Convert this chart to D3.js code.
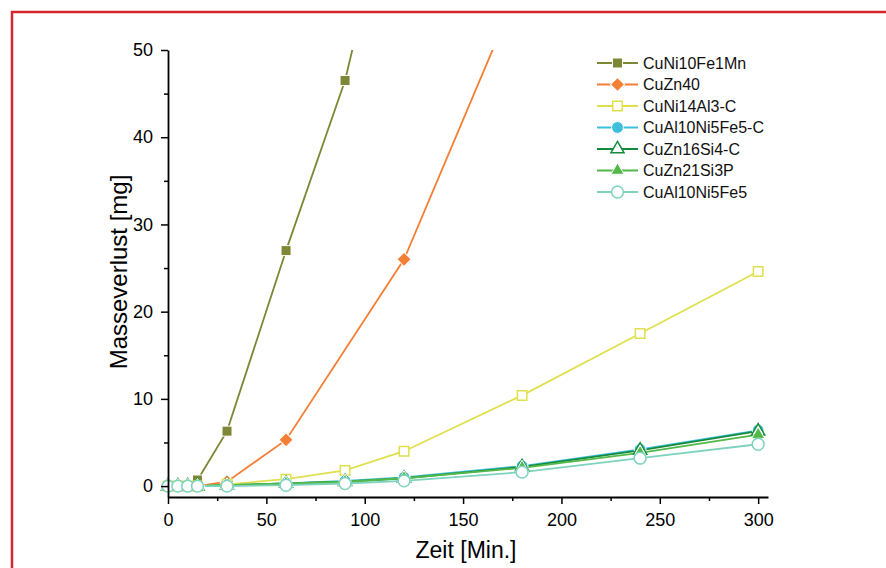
<!DOCTYPE html>
<html>
<head>
<meta charset="utf-8">
<script src="https://cdn.jsdelivr.net/npm/d3@7"></script>
<style>
  body { margin: 0; background: #fff; }
  svg { display: block; font-family: "Liberation Sans", Arial, sans-serif; }
</style>
</head>
<body>
<div id="chart"></div>
<script>
var svgWidth = 886;
var svgHeight = 568;

// Time points (minutes)
var times = [0, 5, 10, 15, 30, 60, 90, 120, 180, 240, 300];

// Mass loss per alloy (mg), null = no measurement / off the chart
var cuNi10Fe1Mn = [0, 0, 0, 0.7, 6.3, 27, 46.5, 75, null, null, null];
var cuZn40 = [0, 0, 0, 0, 0.5, 5.3, null, 26, 58, null, null];
var cuNi14Al3C = [0, 0, 0, 0, 0.2, 0.8, 1.8, 4.0, 10.4, 17.5, 24.6];
var cuAl10Ni5Fe5C = [0, 0, 0, 0, 0.1, 0.3, 0.6, 1.0, 2.3, 4.2, 6.4];
var cuZn16Si4C = [0, 0, 0, 0, 0.1, 0.3, 0.5, 0.9, 2.2, 4.1, 6.3];
var cuZn21Si3P = [0, 0, 0, 0, 0.1, 0.3, 0.5, 0.9, 2.1, 3.8, 5.9];
var cuAl10Ni5Fe5 = [0, 0, 0, 0, 0, 0.1, 0.3, 0.6, 1.6, 3.2, 4.8];

var xTicks = [0, 50, 100, 150, 200, 250, 300];
var yTicks = [0, 10, 20, 30, 40, 50];

var series = [
  { name: "CuNi10Fe1Mn", values: cuNi10Fe1Mn, color: "#7d8736", shape: d3.symbolSquare, size: 100, rot: 0, open: false },
  { name: "CuZn40", values: cuZn40, color: "#f47f35", shape: d3.symbolSquare, size: 100, rot: 45, open: false },
  { name: "CuNi14Al3-C", values: cuNi14Al3C, color: "#e0e04e", shape: d3.symbolSquare, size: 90, rot: 0, open: true },
  { name: "CuAl10Ni5Fe5-C", values: cuAl10Ni5Fe5C, color: "#3ec0dc", shape: d3.symbolCircle, size: 110, rot: 0, open: false },
  { name: "CuZn16Si4-C", values: cuZn16Si4C, color: "#168a3c", shape: d3.symbolTriangle, size: 75, rot: 0, open: true },
  { name: "CuZn21Si3P", values: cuZn21Si3P, color: "#52b848", shape: d3.symbolTriangle, size: 75, rot: 0, open: false },
  { name: "CuAl10Ni5Fe5", values: cuAl10Ni5Fe5, color: "#7dd3bd", shape: d3.symbolCircle, size: 110, rot: 0, open: true }
];

var svg = d3.select("#chart")
  .append("svg")
  .attr("width", svgWidth)
  .attr("height", svgHeight);

// red frame around the figure
svg.append("rect")
  .attr("x", 12)
  .attr("y", 12)
  .attr("width", 900)
  .attr("height", 600)
  .attr("fill", "none")
  .attr("stroke", "#d8262e")
  .attr("stroke-width", 2.5);

var xScale = d3.scaleLinear().domain([0, 305]).range([168, 768]);
var yScale = d3.scaleLinear().domain([-1.25, 50]).range([497, 50]);

svg.append("clipPath")
  .attr("id", "plot-clip")
  .append("rect")
  .attr("x", 150)
  .attr("y", 50)
  .attr("width", 640)
  .attr("height", 470);

var plot = svg.append("g").attr("clip-path", "url(#plot-clip)");

var line = d3.line()
  .x(d => xScale(d.t))
  .y(d => yScale(d.v));

series.forEach(function(s) {
  s.points = times
    .map((t, i) => ({ t: t, v: s.values[i] }))
    .filter(d => d.v !== null);
});

// lines first, then markers on top
series.forEach(function(s) {
  plot.append("path")
    .datum(s.points)
    .attr("fill", "none")
    .attr("stroke", s.color)
    .attr("stroke-width", 1.8)
    .attr("d", line);
});

series.forEach(function(s) {
  plot.selectAll(null)
    .data(s.points)
    .enter()
    .append("path")
    .attr("transform", d => `translate(${xScale(d.t)},${yScale(d.v)}) rotate(${s.rot})`)
    .attr("d", d3.symbol().type(s.shape).size(s.size))
    .attr("fill", s.open ? "#fff" : s.color)
    .attr("stroke", s.open ? s.color : "#fff")
    .attr("stroke-width", s.open ? 1.5 : 1);
});

// Axes
svg.append("g")
  .attr("transform", `translate(0, 497)`)
  .call(d3.axisBottom(xScale).tickValues(xTicks).tickSize(7).tickSizeOuter(0).tickPadding(9));

svg.append("g")
  .attr("transform", `translate(0, 497)`)
  .call(d3.axisBottom(xScale).tickValues([25, 75, 125, 175, 225, 275]).tickSize(4).tickSizeOuter(0).tickFormat(""))
  .select(".domain").remove();

svg.append("g")
  .attr("transform", `translate(168, 0)`)
  .call(d3.axisLeft(yScale).tickValues(yTicks).tickSize(7).tickSizeOuter(0).tickPadding(8));

svg.append("g")
  .attr("transform", `translate(168, 0)`)
  .call(d3.axisLeft(yScale).tickValues([5, 15, 25, 35, 45]).tickSize(4).tickSizeOuter(0).tickFormat(""))
  .select(".domain").remove();

svg.selectAll(".domain").attr("stroke-width", 1.8).attr("stroke", "#000");
svg.selectAll(".tick line").attr("stroke-width", 1.5).attr("stroke", "#000");
svg.selectAll(".tick text")
  .attr("font-family", "'Liberation Sans', Arial, sans-serif")
  .attr("font-size", "18px")
  .attr("fill", "#000");

// Axis titles
svg.append("text")
  .attr("x", 466)
  .attr("y", 558)
  .attr("text-anchor", "middle")
  .attr("font-size", "23px")
  .attr("fill", "#000")
  .text("Zeit [Min.]");

svg.append("text")
  .attr("transform", "translate(127, 272) rotate(-90)")
  .attr("text-anchor", "middle")
  .attr("font-size", "24px")
  .attr("fill", "#000")
  .text("Masseverlust [mg]");

// Legend
var legend = svg.append("g").attr("transform", "translate(597, 63)");

var rows = legend.selectAll("g")
  .data(series)
  .enter()
  .append("g")
  .attr("transform", (d, i) => `translate(0, ${i * 21.5})`);

rows.append("line")
  .attr("x1", 0)
  .attr("x2", 41)
  .attr("stroke", d => d.color)
  .attr("stroke-width", 1.8);

rows.append("path")
  .attr("transform", d => `translate(20.5, 0) rotate(${d.rot})`)
  .attr("d", d => d3.symbol().type(d.shape).size(d.size)())
  .attr("fill", d => d.open ? "#fff" : d.color)
  .attr("stroke", d => d.open ? d.color : "#fff")
  .attr("stroke-width", d => d.open ? 1.5 : 1);

rows.append("text")
  .attr("x", 46)
  .attr("dy", "0.36em")
  .attr("font-size", "16px")
  .attr("fill", "#111")
  .text(d => d.name);
</script>
</body>
</html>
